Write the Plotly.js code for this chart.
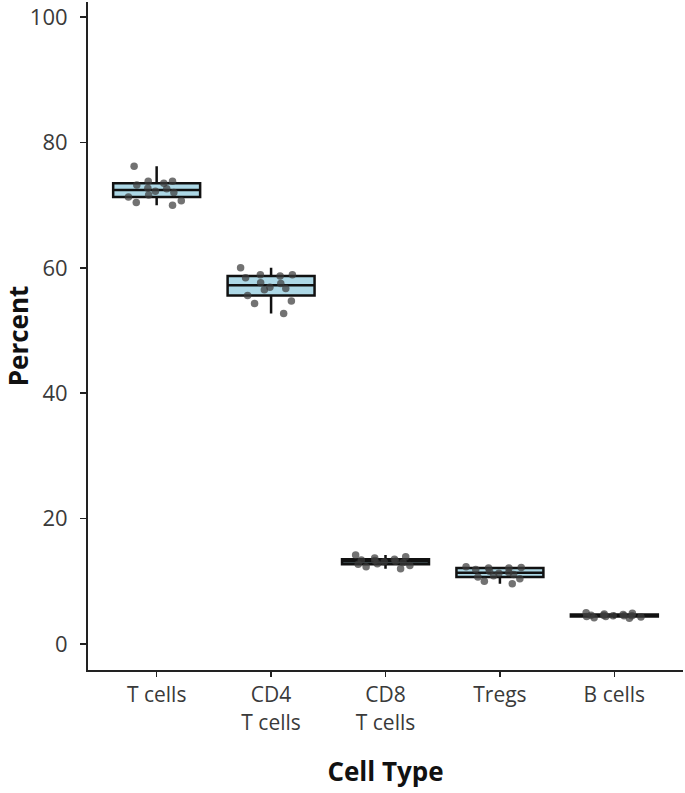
<!DOCTYPE html>
<html>
<head>
<meta charset="utf-8">
<script src="https://cdn.plot.ly/plotly-3.0.1.min.js"></script>
<style>html,body{margin:0;padding:0;background:#fff;}#chart{width:685px;height:793px;}</style>
</head>
<body>
<div id="chart"></div>
<script>
// Category labels
var categories = ["T cells", "CD4<br>T cells", "CD8<br>T cells", "Tregs", "B cells"];
// Per-sample percentages
var tCells  = [70.0, 70.4, 70.7, 71.3, 71.6, 72.0, 72.2, 72.6, 72.7, 73.2, 73.5, 73.8, 73.8, 76.2];
var cd4     = [52.7, 54.3, 54.7, 55.6, 56.5, 56.7, 56.9, 57.5, 57.6, 58.4, 58.7, 58.9, 58.9, 60.0];
var cd8     = [12.0, 12.3, 12.5, 12.7, 12.8, 13.0, 13.1, 13.2, 13.3, 13.4, 13.5, 13.7, 13.9, 14.2];
var tregs   = [9.6, 10.0, 10.4, 10.7, 10.9, 11.1, 11.3, 11.4, 11.6, 11.9, 12.1, 12.1, 12.2, 12.3];
var bCells  = [4.1, 4.2, 4.3, 4.4, 4.4, 4.5, 4.5, 4.5, 4.6, 4.6, 4.7, 4.8, 4.9, 5.0];
var yTicks = [0, 20, 40, 60, 80, 100];

var series = [tCells, cd4, cd8, tregs, bCells];
var FONT = "Open Sans";
var traces = series.map(function (vals, i) {
  return {
    type: "box",
    x: vals.map(function () { return categories[i]; }),
    y: vals,
    width: 0.76,
    boxpoints: "all",
    jitter: 0.8,
    pointpos: 0,
    quartilemethod: "exclusive",
    whiskerwidth: 0,
    fillcolor: "#add8e6",
    line: { color: "#111111", width: 2.5 },
    marker: { color: "rgba(60,60,60,0.72)", size: 7.5 },
    showlegend: false,
    hoverinfo: "y"
  };
});

var layout = {
  width: 685,
  height: 793,
  margin: { l: 88, r: 2, t: 2, b: 123 },
  paper_bgcolor: "#ffffff",
  plot_bgcolor: "#ffffff",
  showlegend: false,
  boxmode: "overlay",
  font: { family: FONT, color: "#333333" },
  xaxis: {
    type: "category",
    categoryorder: "array",
    categoryarray: categories,
    range: [-0.6, 4.6],
    showline: true,
    linecolor: "#222222",
    linewidth: 2,
    ticks: "outside",
    ticklen: 5,
    tickwidth: 1.5,
    tickcolor: "#222222",
    showgrid: false,
    zeroline: false,
    tickfont: { family: FONT, size: 21, color: "#3a3a3a" },
    title: { text: "Cell Type", font: { family: FONT, size: 26, color: "#111111", weight: "bold" }, standoff: 28 },
    automargin: false
  },
  yaxis: {
    range: [-4.15, 102.4],
    tickvals: yTicks,
    ticktext: yTicks.map(String),
    showline: true,
    linecolor: "#222222",
    linewidth: 2,
    ticks: "outside",
    ticklen: 6,
    tickwidth: 1.5,
    tickcolor: "#222222",
    ticklabelstandoff: 8,
    showgrid: false,
    zeroline: false,
    tickfont: { family: FONT, size: 22, color: "#3a3a3a" },
    title: { text: "Percent", font: { family: FONT, size: 26, color: "#111111", weight: "bold" }, standoff: 10 },
    automargin: false
  }
};

Plotly.newPlot("chart", traces, layout, { displayModeBar: false, staticPlot: true });
</script>
</body>
</html>
